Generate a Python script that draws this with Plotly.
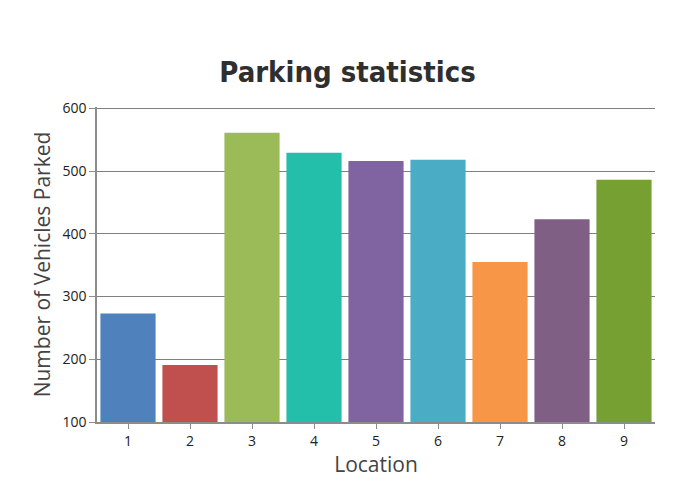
import plotly.graph_objects as go

locations = ["1", "2", "3", "4", "5", "6", "7", "8", "9"]
vehicles = [273, 191, 561, 529, 516, 518, 355, 423, 486]
colors = ["#4F81BC", "#C0504E", "#9BBB58", "#23BFAA", "#8064A1",
          "#4AACC5", "#F79647", "#7F6084", "#77A033"]
y_ticks = [100, 200, 300, 400, 500, 600]

fig = go.Figure(go.Bar(
    x=locations, y=vehicles, marker=dict(color=colors, line=dict(width=0)),
))

font_main = "'Open Sans', 'Noto Sans', sans-serif"
fig.update_layout(
    width=695, height=494,
    margin=dict(l=97, r=40, t=107, b=72),
    paper_bgcolor="white", plot_bgcolor="white",
    bargap=0.11,
    showlegend=False,
    title=dict(text="<b>Parking statistics</b>", x=0.5, xanchor="center",
               y=0.855, yanchor="middle",
               font=dict(family="'DejaVu Sans Condensed', 'Liberation Sans Narrow', sans-serif",
                         size=29, color="#2f2f2f")),
)
fig.update_xaxes(
    type="category",
    showline=True, linecolor="#8c8c8c", linewidth=1.5,
    ticks="outside", ticklen=5, tickcolor="#8c8c8c",
    tickfont=dict(family=font_main, size=14, color="#222"),
    title=dict(text="Location", font=dict(family=font_main, size=21, color="#444"), standoff=2),
    showgrid=False,
)
fig.update_yaxes(
    range=[100, 602], tickvals=y_ticks,
    showline=True, linecolor="#8c8c8c", linewidth=1.5,
    ticks="outside", ticklen=6, tickcolor="#8c8c8c",
    showgrid=True, gridcolor="#808080", gridwidth=1.2,
    tickfont=dict(family=font_main, size=14, color="#222"),
    title=dict(text="Number of Vehicles Parked", font=dict(family=font_main, size=21, color="#444"), standoff=6),
    zeroline=False,
)

fig.write_html("out.html")
